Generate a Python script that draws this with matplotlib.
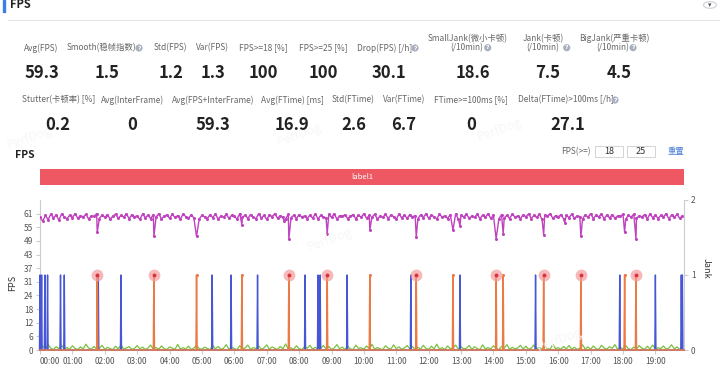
import numpy as np
import matplotlib
matplotlib.use("Agg")
import matplotlib.pyplot as plt
from matplotlib.patches import Rectangle, Circle
from matplotlib.lines import Line2D

plt.rcParams['font.family'] = ['Noto Sans CJK SC', 'DejaVu Sans']

# ---------------- data ----------------
METRIC_LABELS_1 = ["Avg(FPS)", "Smooth(稳帧指数)", "Std(FPS)", "Var(FPS)", "FPS>=18 [%]",
                   "FPS>=25 [%]", "Drop(FPS) [/h]", "SmallJank(微小卡顿)\n(/10min)",
                   "Jank(卡顿)\n(/10min)", "BigJank(严重卡顿)\n(/10min)"]
METRIC_VALUES_1 = ["59.3", "1.5", "1.2", "1.3", "100", "100", "30.1", "18.6", "7.5", "4.5"]
METRIC_LABELS_2 = ["Stutter(卡顿率) [%]", "Avg(InterFrame)", "Avg(FPS+InterFrame)", "Avg(FTime) [ms]",
                   "Std(FTime)", "Var(FTime)", "FTime>=100ms [%]", "Delta(FTime)>100ms [/h]"]
METRIC_VALUES_2 = ["0.2", "0", "59.3", "16.9", "2.6", "6.7", "0", "27.1"]

X_TICK_LABELS = ["%02d:00" % m for m in range(20)]
FPS_TICK_LABELS = ["0", "6", "12", "18", "24", "31", "37", "43", "49", "55", "61"]
JANK_TICK_LABELS = ["0", "1", "2"]

SAMPLE_STEP_S = 5
DURATION_S = 1193

FPS_BASE = [
    59.4, 57.6, 60.2, 58.3, 60.8, 59.1, 60.5, 58.0, 60.9, 59.6, 58.7, 60.3, 59.2, 61.0, 58.9, 60.1, 59.5, 60.7, 58.6, 60.0,
    59.8, 61.0, 58.8, 60.4, 59.3, 60.6, 58.5, 59.9, 60.8, 58.9, 60.2, 59.4, 61.0, 58.7, 60.5, 59.6, 60.0, 58.4, 60.9, 59.2,
    60.3, 58.8, 60.6, 59.5, 61.0, 58.6, 59.9, 60.4, 58.9, 60.7, 59.3, 60.1, 58.5, 60.8, 59.7, 58.9, 60.5, 59.1, 61.0, 58.7,
    60.2, 59.6, 58.8, 60.6, 59.2, 60.9, 58.5, 60.0, 59.4, 60.7, 58.9, 60.3, 59.8, 58.6, 61.0, 59.3, 60.4, 58.8, 60.6, 59.5,
    58.7, 60.9, 59.1, 60.2, 58.4, 60.5, 59.7, 61.0, 58.9, 60.1, 59.4, 58.6, 60.8, 59.2, 60.3, 58.8, 60.6, 59.5, 60.0, 58.7,
    60.4, 59.0, 60.9, 58.6, 60.2, 59.6, 58.9, 60.7, 59.3, 61.0, 58.5, 60.1, 59.8, 60.5, 58.8, 59.9, 60.6, 58.7, 60.3, 59.4,
    61.0, 58.9, 60.2, 59.5, 60.7, 58.6, 60.0, 59.3, 60.8, 58.8, 60.4, 59.7, 58.5, 60.9, 59.1, 60.3, 58.9, 60.6, 59.6, 60.1,
    58.7, 60.5, 59.2, 61.0, 58.9, 60.3, 59.7, 58.6, 60.8, 59.4, 60.1, 58.8, 60.6, 59.0, 60.9, 58.5, 60.2, 59.6, 60.7, 58.9,
    60.0, 59.3, 60.8, 58.7, 60.4, 59.5, 61.0, 58.9, 60.2, 59.8, 58.6, 60.6, 59.1, 60.3, 58.8, 60.9, 59.4, 60.0, 58.7, 60.5,
    59.6, 60.9, 58.8, 60.2, 59.3, 60.7, 58.5, 60.4, 59.9, 61.0, 58.9, 60.1, 59.5, 60.6, 58.7, 60.3, 59.2, 60.8, 58.9, 60.0,
    59.7, 58.6, 60.5, 59.4, 61.0, 58.8, 60.2, 59.6, 60.9, 58.7, 60.4, 59.1, 60.6, 58.9, 60.0, 59.8, 60.7, 58.5, 60.3, 59.4,
    60.8, 58.9, 60.1, 59.5, 60.6, 58.7, 60.9, 59.2, 60.4, 58.8, 60.2, 59.6, 61.0, 58.6, 60.5, 59.3, 60.7, 58.9, 60.0, 59.6,
]
DIP_T = [106, 211, 290, 374, 452, 461, 532, 611, 697, 765, 778, 845, 858, 933, 972, 1002, 1083, 1104]
DIP_V = [52.7, 50.8, 50.8, 56.0, 57.8, 49.7, 52.0, 53.7, 50.5, 53.7, 55.6, 49.7, 52.0, 51.6, 57.0, 50.8, 52.7, 49.7]

GREEN_BASE = [
    0.3, 1.8, 0.5, 2.4, 0.8, 0.2, 1.5, 0.6, 2.2, 0.4, 1.1, 0.3, 1.9, 0.7, 0.2, 1.4, 0.5, 2.6, 0.9, 0.3,
    1.6, 0.4, 0.8, 2.1, 0.3, 1.2, 0.6, 0.2, 1.7, 0.5, 2.3, 0.4, 0.9, 1.5, 0.3, 0.7, 2.0, 0.5, 1.3, 0.2,
    0.9, 2.2, 0.4, 1.1, 0.3, 1.8, 0.6, 0.2, 1.4, 0.8, 0.3, 2.5, 0.5, 1.0, 0.4, 1.7, 0.2, 0.9, 2.1, 0.6,
    0.3, 1.3, 0.7, 0.2, 2.0, 0.5, 1.6, 0.3, 0.8, 2.4, 0.4, 1.2, 0.6, 0.2, 1.9, 0.5, 0.9, 2.2, 0.3, 1.1,
    0.6, 1.8, 0.3, 0.9, 2.3, 0.4, 1.4, 0.7, 0.2, 1.6, 0.5, 2.7, 0.4, 1.0, 0.3, 1.9, 0.6, 0.2, 1.5, 0.8,
    2.1, 0.4, 1.2, 0.3, 0.8, 2.0, 0.5, 1.6, 0.2, 0.9, 2.4, 0.6, 1.3, 0.3, 1.7, 0.5, 0.2, 2.2, 0.7, 1.0,
    0.4, 1.8, 0.6, 2.5, 0.3, 1.1, 0.5, 0.2, 1.9, 0.8, 0.4, 2.3, 0.6, 1.4, 0.3, 0.9, 2.0, 0.5, 1.6, 0.2,
    1.2, 0.4, 2.1, 0.7, 0.3, 1.7, 0.5, 2.6, 0.4, 1.0, 0.2, 1.8, 0.6, 0.9, 2.2, 0.3, 1.4, 0.5, 0.8, 2.0,
    0.3, 1.5, 0.6, 0.2, 2.3, 0.5, 1.1, 0.4, 1.9, 0.7, 0.2, 1.6, 0.8, 2.4, 0.3, 1.2, 0.5, 0.9, 2.1, 0.4,
    1.7, 0.3, 0.8, 2.2, 0.5, 1.3, 0.2, 1.9, 0.6, 0.4, 2.5, 0.7, 1.0, 0.3, 1.6, 0.5, 2.0, 0.4, 1.2, 0.2,
    0.8, 2.3, 0.5, 1.4, 0.3, 1.8, 0.6, 0.2, 2.1, 0.9, 0.4, 1.5, 0.7, 2.4, 0.3, 1.1, 0.5, 1.9, 0.6, 0.2,
    1.3, 0.4, 2.0, 0.8, 0.3, 1.7, 0.5, 2.2, 0.4, 1.0, 0.6, 1.8, 0.3, 0.9, 2.3, 0.5, 1.4, 0.2, 1.6, 0.4,
]

JANK_T = [106, 211, 290, 374, 461, 532, 611, 697, 765, 845, 858, 933, 1002, 1083, 1104]
BIG_JANK_T = [106, 211, 461, 532, 697, 845, 933, 1002, 1104]
SMALL_JANK_T = [0, 3, 9, 14, 38, 45, 108, 150, 319, 354, 403, 491, 515, 519, 569, 687, 778,
                918, 1074, 1140, 1188, 1190]

# ---------------- layout helpers ----------------
W, H = 720, 366
fig = plt.figure(figsize=(W / 100, H / 100), dpi=100)
fig.patch.set_facecolor('white')


def fx(x):
    return x / W


def fy(y):
    return 1 - y / H


def T(x, y, s, **kw):
    kw.setdefault('ha', 'center')
    kw.setdefault('va', 'center')
    return fig.text(fx(x), fy(y), s, **kw)


def Q(x, y):
    T(x, y, '?', fontsize=4.3, color='white', fontweight='bold',
      family=['DejaVu Sans'],
      bbox=dict(boxstyle='circle,pad=0.18', fc='#a8afbf', ec='none'))


# header
fig.patches.append(Rectangle((fx(2.5), fy(12)), 2.5 / W, 12 / H, transform=fig.transFigure,
                             color='#3d7ee6', zorder=5))
T(10, 5, 'FPS', ha='left', fontsize=8, fontweight='bold', color='#222')
fig.add_artist(Line2D([fx(8), fx(720)], [fy(20), fy(20)], transform=fig.transFigure,
                      color='#e6e6ea', lw=0.8))
fig.patches.append(Circle((fx(710), fy(5)), 6.5 / W, transform=fig.transFigure, fc='white',
                          ec='#cfcfd6', lw=0.8))
T(710, 5.5, '▾', fontsize=5, color='#555', family=['DejaVu Sans'])

# watermarks (very faint)
for (wx, wy) in [(30, 138), (300, 135), (500, 130), (560, 340), (330, 240)]:
    T(wx, wy, 'PerfDog', fontsize=9, color='#f7f7f7', rotation=20, zorder=0)

# metrics row 1
LBL_X1 = [41.5, 101.5, 170.3, 212.5, 263.5, 323, 385, 467.7, 543.3, 614]
VAL_X1 = [41.5, 107.5, 171, 212.5, 263, 323, 389, 472.5, 548, 619]
for i, (lab, val) in enumerate(zip(METRIC_LABELS_1, METRIC_VALUES_1)):
    parts = lab.split('\n')
    if len(parts) == 1:
        T(LBL_X1[i], 48, parts[0], fontsize=6, color='#666')
    else:
        T(LBL_X1[i], 38.3, parts[0], fontsize=6, color='#666')
        T(LBL_X1[i] - 1, 47.7, parts[1], fontsize=6, color='#666')
    T(VAL_X1[i], 73, val, fontsize=12, fontweight='bold', color='#222')
for (qx, qy) in [(139, 48), (415, 48), (487.7, 47.7), (566.7, 47.7), (633, 47.7)]:
    Q(qx, qy)

# metrics row 2
LBL_X2 = [58.3, 133, 213, 292.5, 353.5, 404.2, 471.3, 565.5]
VAL_X2 = [58, 132.5, 212.5, 292.5, 354, 404, 471, 568]
for i, (lab, val) in enumerate(zip(METRIC_LABELS_2, METRIC_VALUES_2)):
    T(LBL_X2[i], 100, lab, fontsize=6, color='#666')
    T(VAL_X2[i], 125, val, fontsize=12, fontweight='bold', color='#222')
Q(615, 100)

# chart header
T(15, 155, 'FPS', ha='left', fontsize=7.5, fontweight='bold', color='#222')
T(576, 152, 'FPS(>=)', fontsize=6, color='#666')
for (bx, txt) in [(595, '18'), (627, '25')]:
    fig.patches.append(Rectangle((fx(bx), fy(157)), 28 / W, 11 / H, transform=fig.transFigure,
                                 fc='white', ec='#d4d4d8', lw=0.7))
    T(bx + 14, 151.5, txt, fontsize=6.5, color='#333')
T(676, 151.5, '重置', fontsize=6, color='#4a7fd6')

# label bar
fig.patches.append(Rectangle((fx(40), fy(185)), 644 / W, 16 / H, transform=fig.transFigure,
                             fc='#ee5863', ec='none'))
T(362, 177, 'label1', fontsize=5.5, color='white')

# ---------------- main chart ----------------
ax = fig.add_axes([fx(40), fy(350), 644 / W, 150 / H])
ax2 = ax.twinx()
FPS_MAX = 67.1
ax.set_ylim(0, FPS_MAX)
ax2.set_ylim(0, 2)
ax.set_xlim(0, DURATION_S)

# FPS series (base grid merged with dips)
base_t = np.arange(len(FPS_BASE)) * SAMPLE_STEP_S
keep = ~np.isin(base_t, DIP_T)
ft = np.concatenate([base_t[keep], DIP_T])
fv = np.concatenate([np.array(FPS_BASE)[keep], DIP_V])
order = np.argsort(ft)
ft, fv = ft[order], fv[order]
m = ft <= DURATION_S
ax.plot(ft[m], fv[m], color='#bf42bf', lw=1.0, marker='o', ms=2.2, mew=0, zorder=3)

# green series
gt = np.arange(len(GREEN_BASE)) * SAMPLE_STEP_S
gm = gt <= DURATION_S
ax.plot(gt[gm], np.array(GREEN_BASE)[gm], color='#78c040', lw=0.9, zorder=2)


def spikes(times):
    xs, ys = [0], [0]
    for t in times:
        xs += [t - 1, t, t + 1]
        ys += [0, 1, 0]
    xs.append(DURATION_S)
    ys.append(0)
    return xs, ys


sx, sy = spikes(SMALL_JANK_T)
ax2.plot(sx, sy, color='#4656d4', lw=1.0, zorder=3, clip_on=False)
jx, jy = spikes(JANK_T)
ax2.plot(jx, jy, color='#ec7a45', lw=1.1, zorder=4, clip_on=False)
small_only = [t for t in JANK_T if t not in BIG_JANK_T]
ax2.plot(small_only, [1] * len(small_only), 'o', color='#ec7a45', ms=2.2, mew=0, zorder=5)
ax2.plot(BIG_JANK_T, [1] * len(BIG_JANK_T), 'o', color='#f39a9a', alpha=0.7, ms=8.5, mew=0, zorder=5)
ax2.plot(BIG_JANK_T, [1] * len(BIG_JANK_T), 'o', color='#d8333f', ms=2.8, mew=0, zorder=6)

# axes styling
for a in (ax, ax2):
    for s in a.spines.values():
        s.set_color('#cccccc')
        s.set_linewidth(0.8)
    a.spines['top'].set_visible(False)
ax.spines['right'].set_visible(False)
ax2.spines['left'].set_visible(False)
ax2.spines['bottom'].set_visible(False)

ax.set_yticks([FPS_MAX / 11 * i for i in range(11)])
ax.set_yticklabels(FPS_TICK_LABELS)
ax2.set_yticks([0, 1, 2])
ax2.set_yticklabels(JANK_TICK_LABELS)
ax.set_xticks([60 * i for i in range(20)])
ax.set_xticklabels(X_TICK_LABELS)
ax.get_xticklabels()[0].set_horizontalalignment('left')
ax.tick_params(axis='both', colors='#cccccc', labelcolor='#555555', labelsize=6, length=3, width=0.8, pad=2)
ax2.tick_params(axis='y', colors='#cccccc', labelcolor='#555555', labelsize=6, length=3, width=0.8, pad=2)
ax.set_facecolor('none')

T(13, 283, 'FPS', rotation=90, fontsize=6.5, color='#333')
T(706, 268, 'Jank', rotation=270, fontsize=6.5, color='#333')

fig.savefig('out.png', dpi=100)
